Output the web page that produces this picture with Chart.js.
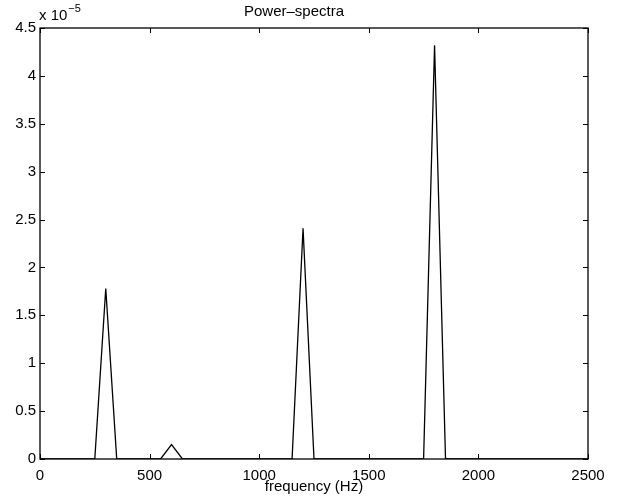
<!DOCTYPE html>
<html>
<head>
<meta charset="utf-8">
<script src="https://cdn.jsdelivr.net/npm/chart.js@4"></script>
<style>
  html, body { margin: 0; padding: 0; background: #fff; }
  #wrap { width: 624px; height: 501px; }
</style>
</head>
<body>
<div id="wrap"><canvas id="spectrum" width="624" height="501"></canvas></div>
<script>
// frequency (Hz) and power (in units of 1e-5)
const frequency = [0, 250, 300, 350, 550, 600, 650, 1150, 1200, 1250, 1750, 1800, 1850, 2500];
const power     = [0, 0, 1.78, 0, 0, 0.15, 0, 0, 2.41, 0, 0, 4.32, 0, 0];

const xTicks = [0, 500, 1000, 1500, 2000, 2500];
const yTicks = [0, 0.5, 1, 1.5, 2, 2.5, 3, 3.5, 4, 4.5];

const FONT = '"Liberation Sans", Arial, Helvetica, sans-serif';

// matlab style box with inward ticks + exponent label
const boxPlugin = {
    id: 'box',
    afterDatasetsDraw(chart) {
        const ctx = chart.ctx;
        const a = chart.chartArea;
        const xs = chart.scales.x, ys = chart.scales.y;
        ctx.save();
        ctx.strokeStyle = '#000';
        ctx.lineWidth = 1.3;
        ctx.strokeRect(a.left, a.top, a.right - a.left, a.bottom - a.top);
        ctx.lineWidth = 1;
        ctx.beginPath();
        xTicks.forEach(v => {
            const px = Math.round(xs.getPixelForValue(v)) + 0.5;
            ctx.moveTo(px, a.bottom); ctx.lineTo(px, a.bottom - 5);
            ctx.moveTo(px, a.top); ctx.lineTo(px, a.top + 5);
        });
        yTicks.forEach(v => {
            const py = Math.round(ys.getPixelForValue(v)) + 0.5;
            ctx.moveTo(a.left, py); ctx.lineTo(a.left + 5, py);
            ctx.moveTo(a.right, py); ctx.lineTo(a.right - 5, py);
        });
        ctx.stroke();

        ctx.fillStyle = '#000';
        ctx.textBaseline = 'alphabetic';
        ctx.textAlign = 'left';
        ctx.font = '15px ' + FONT;
        ctx.fillText('x 10', a.left - 1, a.top - 8);
        const w = ctx.measureText('x 10').width;
        ctx.font = '11px ' + FONT;
        ctx.fillText('\u22125', a.left - 1 + w + 1, a.top - 16);
        ctx.restore();
    }
};

new Chart(document.getElementById('spectrum').getContext('2d'), {
    type: 'line',
    data: {
        datasets: [{
            data: frequency.map((f, i) => ({ x: f, y: power[i] })),
            borderColor: '#000',
            borderWidth: 1.3,
            pointRadius: 0,
            tension: 0,
            fill: false
        }]
    },
    options: {
        responsive: false,
        animation: false,
        layout: { padding: { left: 0, right: 36, top: 0, bottom: 0 } },
        plugins: {
            legend: { display: false },
            tooltip: { enabled: false },
            title: {
                display: true,
                text: 'Power\u2013spectra',
                color: '#000',
                font: { family: FONT, size: 15, weight: 'normal' },
                padding: { top: 3, bottom: 7 }
            }
        },
        scales: {
            x: {
                type: 'linear',
                min: 0,
                max: 2500,
                afterBuildTicks: s => { s.ticks = xTicks.map(v => ({ value: v })); },
                afterFit: s => { s.height = 42; },
                grid: { display: false, drawTicks: false },
                border: { display: false },
                ticks: {
                    color: '#000',
                    padding: 8,
                    maxRotation: 0,
                    font: { family: FONT, size: 15 },
                    callback: v => String(v)
                },
                title: {
                    display: true,
                    text: 'frequency (Hz)',
                    color: '#000',
                    font: { family: FONT, size: 15 },
                    padding: { top: 0, bottom: 5 }
                }
            },
            y: {
                min: 0,
                max: 4.5,
                afterBuildTicks: s => { s.ticks = yTicks.map(v => ({ value: v })); },
                afterFit: s => { s.width = 40; },
                grid: { display: false, drawTicks: false },
                border: { display: false },
                ticks: {
                    color: '#000',
                    padding: 4,
                    font: { family: FONT, size: 15 },
                    callback: v => String(v)
                }
            }
        }
    },
    plugins: [boxPlugin]
});
</script>
</body>
</html>
